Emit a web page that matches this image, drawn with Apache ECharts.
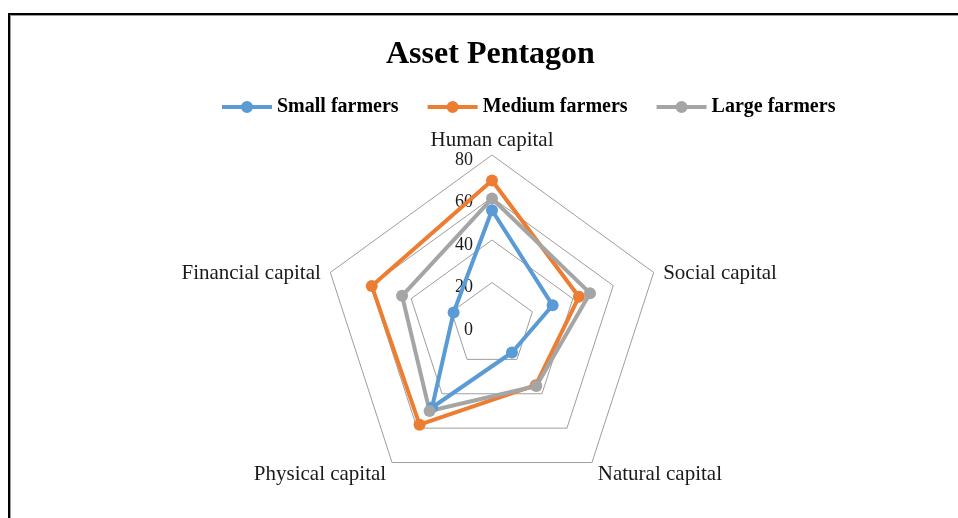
<!DOCTYPE html>
<html>
<head>
<meta charset="utf-8">
<script src="https://cdn.jsdelivr.net/npm/echarts@6/dist/echarts.min.js"></script>
<style>
  html, body { margin: 0; padding: 0; background: #fff; }
  #chart { width: 958px; height: 518px; position: relative; }
  .frame {
    position: absolute; left: 8px; top: 13px; width: 980px; height: 540px;
    border-left: 2px solid #000; border-top: 2px solid #000;
    box-shadow: inset 1px 1px 0 #9a9a9a;
    pointer-events: none;
  }
</style>
</head>
<body>
<div id="chart"></div>
<div class="frame"></div>
<script>
// indicators in display order (ECharts walks them counter-clockwise from the top)
const categories = ["Human capital", "Financial capital", "Physical capital", "Natural capital", "Social capital"];
const axisMax = 80;

// values, same order as categories
const smallFarmers = [54, 19, 48, 16, 30];
const mediumFarmers = [68, 59.5, 58, 35, 43];
const largeFarmers = [59.5, 44.5, 50, 35.5, 48.5];

const seriesNames = ["Small farmers", "Medium farmers", "Large farmers"];
const colors = ["#5B9BD5", "#ED7D31", "#A5A5A5"];

const serif = "'Liberation Serif', 'Times New Roman', serif";

// legend marker: line with a dot in the middle, like the Excel one
const lineDotIcon =
  "path://M0,4L19.5,4L19.5,8L0,8Z M30.5,4L50,4L50,8L30.5,8Z " +
  "M25,0A6,6 0 1,1 25,12A6,6 0 1,1 25,0Z";

const chart = echarts.init(document.getElementById("chart"), null, { renderer: "canvas" });

const option = {
  backgroundColor: "#fff",
  animation: false,
  color: colors,
  title: {
    text: "Asset Pentagon",
    left: 386,
    top: 39,
    padding: 0,
    textStyle: { fontFamily: serif, fontWeight: "bold", fontSize: 32, color: "#000" },
  },
  legend: {
    data: seriesNames.map((n) => ({ name: n, icon: lineDotIcon })),
    left: 222,
    top: 97,
    padding: 0,
    itemWidth: 50,
    itemHeight: 12,
    itemGap: 29,
    textStyle: { fontFamily: serif, fontWeight: "bold", fontSize: 20, color: "#000" },
  },
  radar: {
    center: [492, 325],
    radius: 170,
    shape: "polygon",
    splitNumber: 4,
    nameGap: 10,
    axisName: {
      formatter: (name) => "{n|" + name + "}",
      rich: {
        // extra room on top nudges the side labels down a little
        n: {
          fontFamily: serif,
          fontSize: 21,
          color: "#1a1a1a",
          lineHeight: 13,
          padding: [8, 0, 0, 0],
        },
      },
    },
    axisLine: { show: false },
    axisTick: { show: false },
    axisLabel: { show: false },
    splitArea: { show: false },
    splitLine: { lineStyle: { color: "#9e9e9e", width: 1 } },
    indicator: categories.map((name, i) => {
      const ind = { name: name, min: 0, max: axisMax };
      if (i === 0) {
        ind.axisLabel = {
          show: true,
          margin: 19,
          verticalAlign: "top",
          lineHeight: 10,
          fontFamily: serif,
          fontSize: 18,
          color: "#1a1a1a",
        };
      }
      return ind;
    }),
  },
  series: [
    {
      type: "radar",
      symbol: "circle",
      symbolSize: 12,
      lineStyle: { width: 4 },
      data: [
        { name: seriesNames[0], value: smallFarmers, itemStyle: { color: colors[0] }, lineStyle: { color: colors[0], width: 4 } },
        { name: seriesNames[1], value: mediumFarmers, itemStyle: { color: colors[1] }, lineStyle: { color: colors[1], width: 4 } },
        { name: seriesNames[2], value: largeFarmers, itemStyle: { color: colors[2] }, lineStyle: { color: colors[2], width: 4 } },
      ],
    },
  ],
};

chart.setOption(option);
</script>
</body>
</html>
